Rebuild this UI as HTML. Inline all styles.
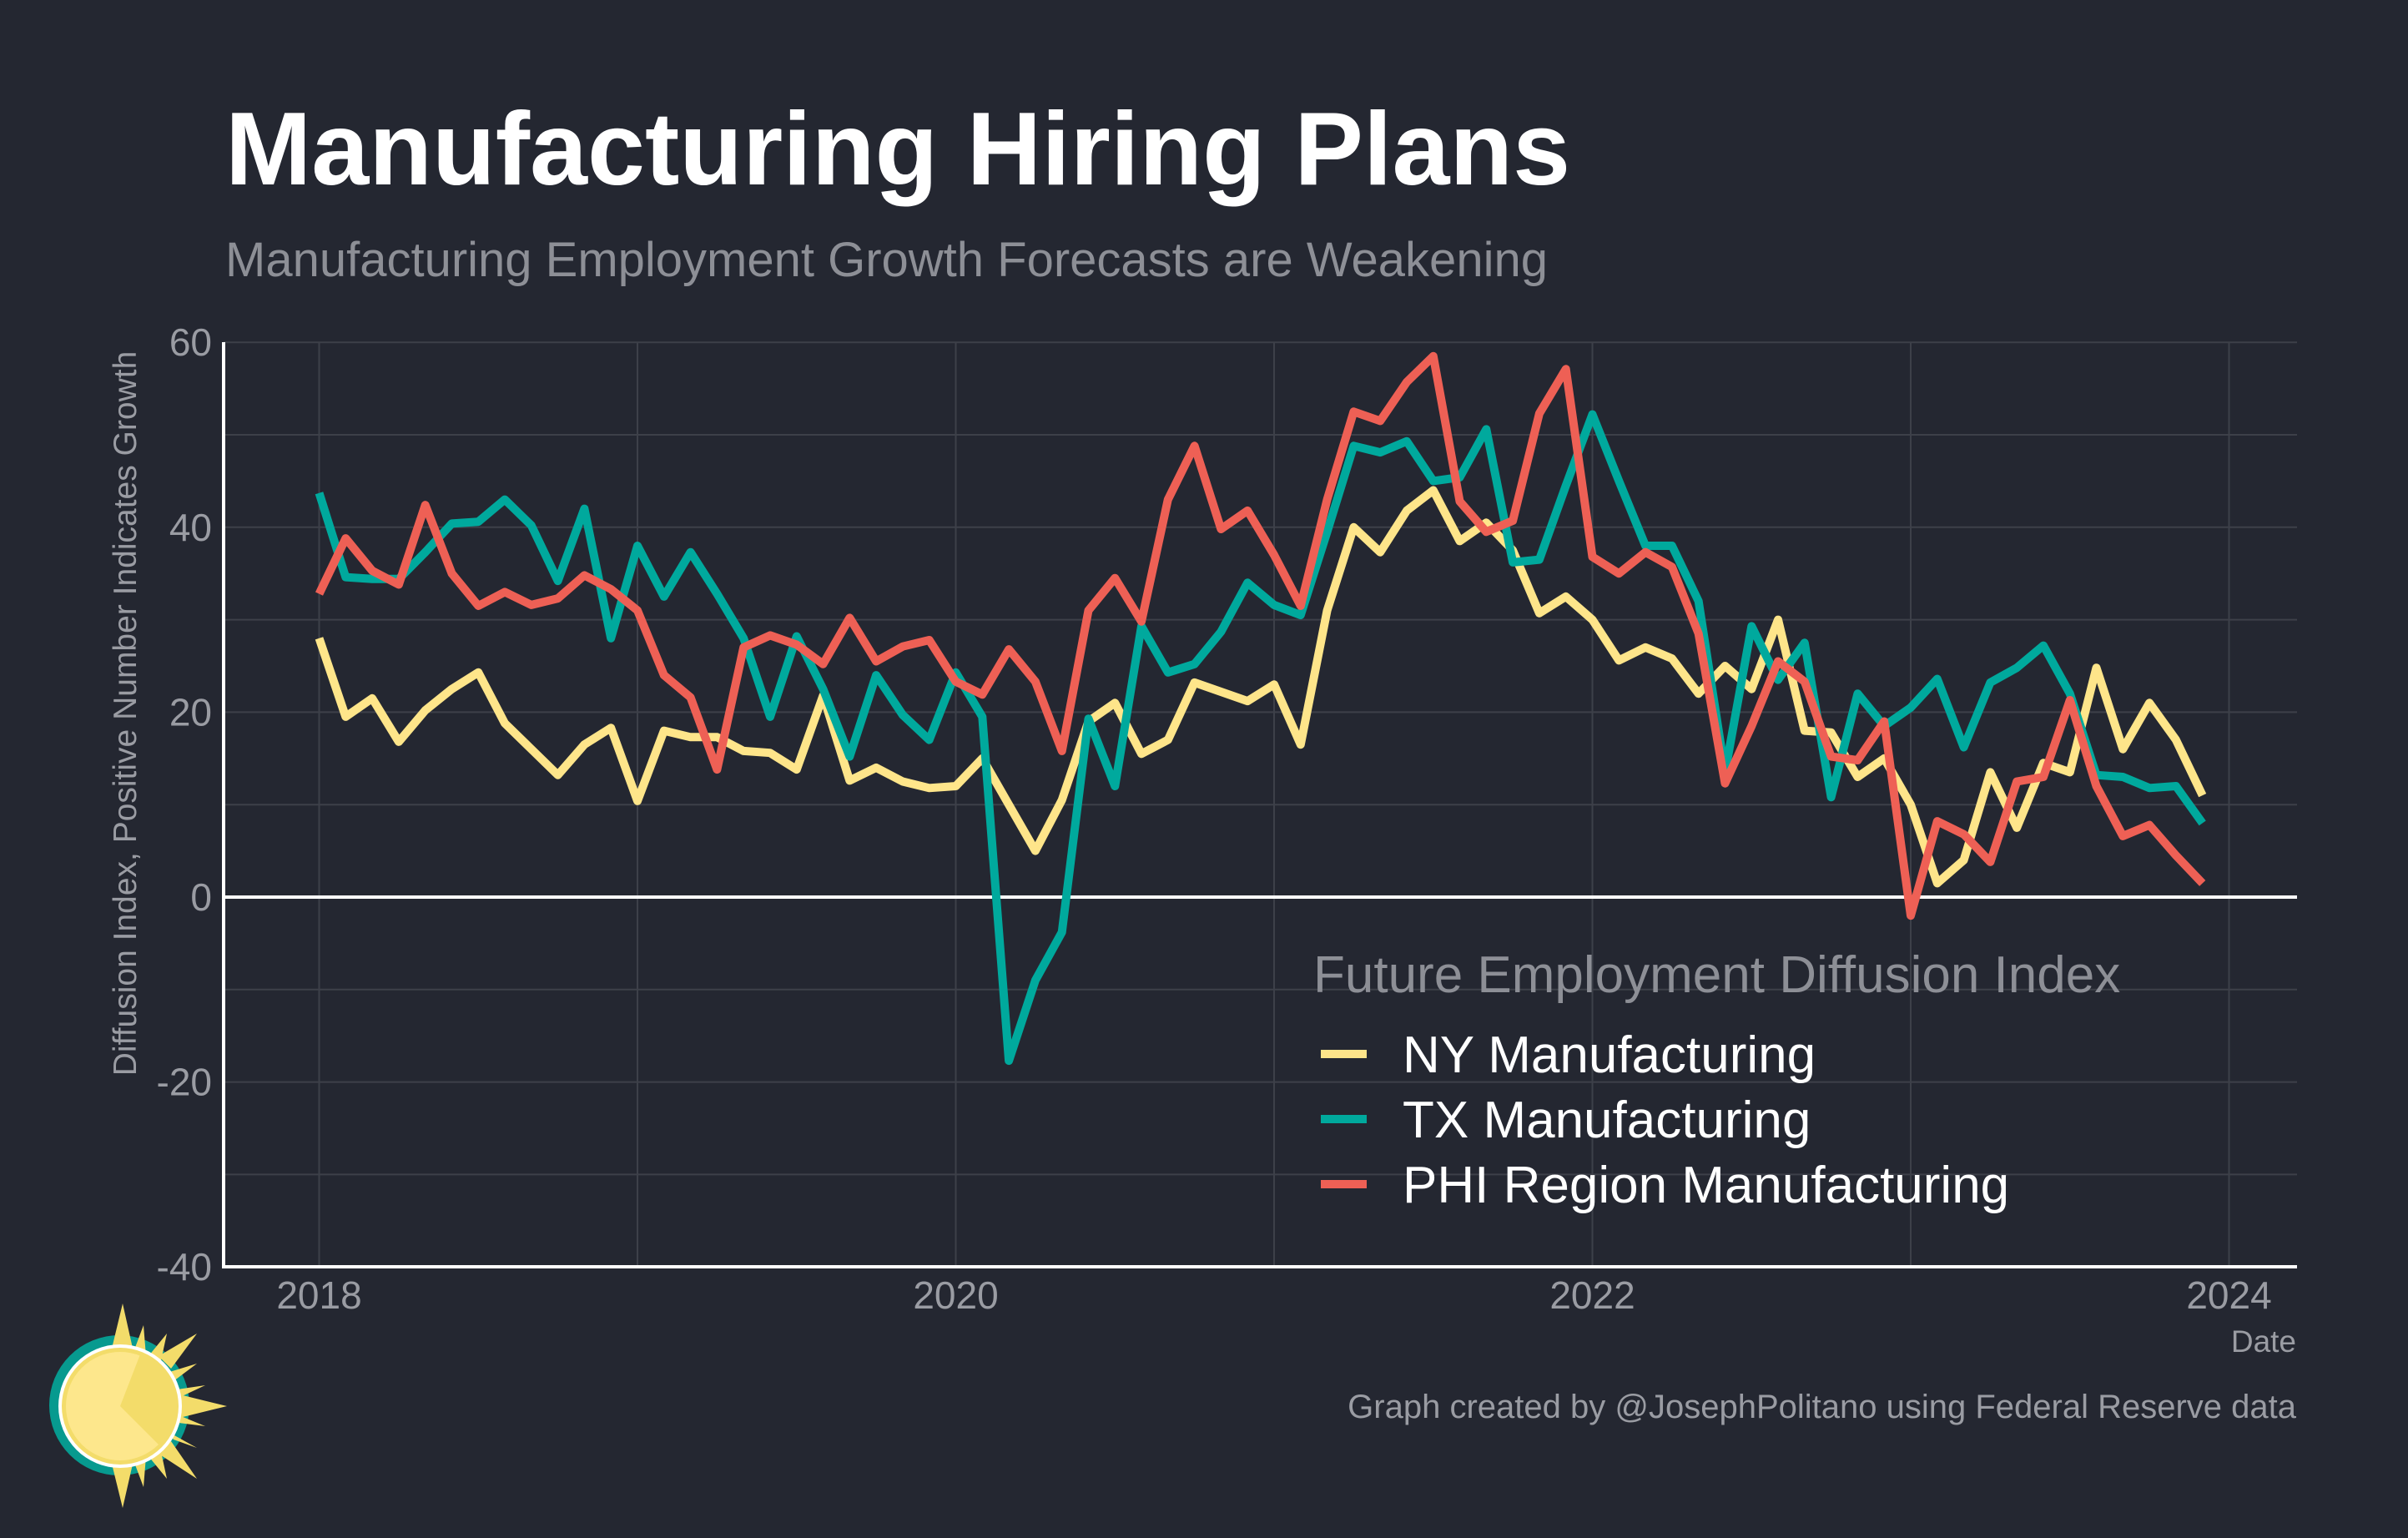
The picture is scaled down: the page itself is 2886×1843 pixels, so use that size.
<!DOCTYPE html>
<html><head><meta charset="utf-8"><style>
html,body{margin:0;padding:0;background:#242731;}
svg{display:block;font-family:"Liberation Sans",Arial,sans-serif;}
</style></head><body>
<svg id="chart" width="2886" height="1843" viewBox="0 0 2886 1843" xmlns="http://www.w3.org/2000/svg">
<rect width="2886" height="1843" fill="#242731"/>
<text x="270" y="221" font-size="124" font-weight="bold" fill="#ffffff">Manufacturing Hiring Plans</text>
<text x="270" y="331" font-size="58" fill="#8d8f96">Manufacturing Employment Growth Forecasts are Weakening</text>
<g id="grid"></g>
<g id="ticks"></g>
<g id="series"></g>
<line x1="268" y1="410" x2="268" y2="1520" stroke="#ffffff" stroke-width="4"/>
<line x1="266" y1="1518" x2="2753" y2="1518" stroke="#ffffff" stroke-width="4"/>
<text x="2752" y="1620" font-size="37" fill="#9a9ca3" text-anchor="end">Date</text>
<text transform="translate(163,855) rotate(-90)" font-size="39" fill="#9a9ca3" text-anchor="middle">Diffusion Index, Positive Number Indicates Growth</text>
<g>
<text x="1574" y="1189" font-size="62" fill="#8d8f96">Future Employment Diffusion Index</text>
<g><line x1="1583" y1="1263" x2="1638" y2="1263" stroke="#fee58a" stroke-width="10"/><text x="1681" y="1285" font-size="62" fill="#ffffff">NY Manufacturing</text></g>
<g><line x1="1583" y1="1341" x2="1638" y2="1341" stroke="#00a99d" stroke-width="10"/><text x="1681" y="1363" font-size="62" fill="#ffffff">TX Manufacturing</text></g>
<g><line x1="1583" y1="1419" x2="1638" y2="1419" stroke="#ee6055" stroke-width="10"/><text x="1681" y="1441" font-size="62" fill="#ffffff">PHI Region Manufacturing</text></g>
</g>
<text x="2752" y="1699" font-size="40" fill="#9a9ca3" text-anchor="end">Graph created by @JosephPolitano using Federal Reserve data</text>
<g>
<circle cx="143" cy="1684" r="84" fill="#079a8f"/>
<g fill="#f3dc6a">
<polygon points="147,1562 133,1620 160,1620"/>
<polygon points="147,1807 133,1750 160,1750"/>
<polygon points="272,1685 215,1671 215,1699"/>
<polygon points="172,1588 160,1620 175,1625"/>
<polygon points="200,1598 178,1625 192,1635"/>
<polygon points="236,1598 190,1625 205,1640"/>
<polygon points="236,1634 200,1645 208,1655"/>
<polygon points="246,1660 212,1665 214,1675"/>
<polygon points="246,1709 212,1695 214,1705"/>
<polygon points="236,1735 200,1715 208,1725"/>
<polygon points="236,1772 190,1742 205,1727"/>
<polygon points="200,1772 178,1745 192,1735"/>
<polygon points="172,1782 160,1750 175,1745"/>
</g>
<circle cx="144" cy="1685" r="74" fill="#ffffff"/>
<circle cx="144" cy="1685" r="70" fill="#f3dc6a"/>
<circle cx="144" cy="1685" r="65" fill="#fde78c"/>
<path d="M144,1685 L168,1623 A66,66 0 0 1 190,1731 Z" fill="#f3dc6a"/>
</g>
</svg>
<script>
const months = 72; // Jan 2018 .. Dec 2023
const yTicks = [60, 40, 20, 0, -20, -40];
const xTickLabels = ["2018", "2020", "2022", "2024"];
const xTickYears = [2018, 2020, 2022, 2024];
const nyValues = [28,19.5,21.5,16.8,20.2,22.5,24.3,18.8,16,13.2,16.5,18.3,
 10.4,18,17.3,17.3,15.8,15.6,13.8,21.8,12.6,14,12.5,11.8,
 12,15,10,5,10.5,19,21,15.5,17,23.2,22.2,21.2,
 23,16.5,31,40,37.3,41.8,44,38.5,40.5,37.5,30.7,32.5,
 30,25.6,27,25.8,22,25,22.5,30,18,17.8,13,15,
 10,1.5,4,13.5,7.5,14.5,13.5,24.8,16,21,17,11];
const txValues = [43.7,34.6,34.4,34.4,37.3,40.4,40.6,43,40.2,34.2,42,28,
 38,32.5,37.3,32.8,28,19.5,28.2,22.5,15.2,24,19.7,17,
 24.3,19.5,-17.7,-9,-3.8,19.3,12,29.3,24.3,25.2,28.7,34,
 31.6,30.5,39.5,48.8,48.1,49.3,45,45.4,50.6,36.2,36.5,44.5,
 52.2,45,38,38,32,13.5,29.3,23.5,27.5,10.8,22,18.5,
 20.5,23.6,16.2,23.2,24.8,27.2,22,13.2,13,11.8,12,8];
const phiValues = [32.8,38.8,35.3,33.8,42.4,35,31.5,33,31.6,32.3,34.8,33.3,
 31,24,21.6,13.8,27,28.3,27.3,25.2,30.2,25.5,27.1,27.8,
 23.3,21.9,26.8,23.3,15.8,31,34.5,29.8,43,48.8,39.8,41.8,
 37,31.5,43,52.5,51.5,55.7,58.5,42.8,39.5,40.7,52.3,57.1,
 36.8,35,37.3,35.7,28.5,12.3,18.5,25.5,23.3,15.2,14.8,19,
 -2,8.2,6.8,3.8,12.5,13,21.3,12,6.6,7.8,4.5,1.5];

const NS = "http://www.w3.org/2000/svg";
function yScale(v){ return 1075 - v * 11.08; }
function xScale(m){ return 382.5 + m * (381.5 / 12); } // m = months since Jan 2018
function mk(tag, attrs, parent){ const e = document.createElementNS(NS, tag); for (const k in attrs) e.setAttribute(k, attrs[k]); parent.appendChild(e); return e; }

const grid = document.getElementById('grid');
for (let v = 60; v >= -40; v -= 10) {
  const l = mk('line', {x1:268, x2:2753, y1:yScale(v), y2:yScale(v), stroke:'#3d4049', 'stroke-width':2}, grid);
  
  
}
for (let yr = 0; yr <= 6; yr++) {
  const l = mk('line', {x1:xScale(yr*12), x2:xScale(yr*12), y1:410, y2:1518, stroke:'#3d4049', 'stroke-width':2}, grid);
  
  
}
const zl = mk('line', {x1:268, x2:2753, y1:yScale(0), y2:yScale(0), stroke:'#ffffff', 'stroke-width':4}, grid);



const ticks = document.getElementById('ticks');
yTicks.forEach(v => {
  const t = mk('text', {x:254, y:yScale(v)+16, 'font-size':46, fill:'#9a9ca3', 'text-anchor':'end'}, ticks);
  t.textContent = String(v);
  
  
});
xTickLabels.forEach((lab, i) => {
  const t = mk('text', {x:xScale((xTickYears[i]-2018)*12), y:1568, 'font-size':46, fill:'#9a9ca3', 'text-anchor':'middle'}, ticks);
  t.textContent = lab;
  
  
});

const series = document.getElementById('series');
function drawLine(vals, color, name){
  const pts = vals.map((v,i) => xScale(i).toFixed(1) + ',' + yScale(v).toFixed(1)).join(' ');
  const p = mk('polyline', {points:pts, fill:'none', stroke:color, 'stroke-width':10, 'stroke-linejoin':'round'}, series);
  
  
}
drawLine(nyValues, '#fee58a', 'ny-manufacturing-line');
drawLine(txValues, '#00a99d', 'tx-manufacturing-line');
drawLine(phiValues, '#ee6055', 'phi-manufacturing-line');
</script>
</body></html>
